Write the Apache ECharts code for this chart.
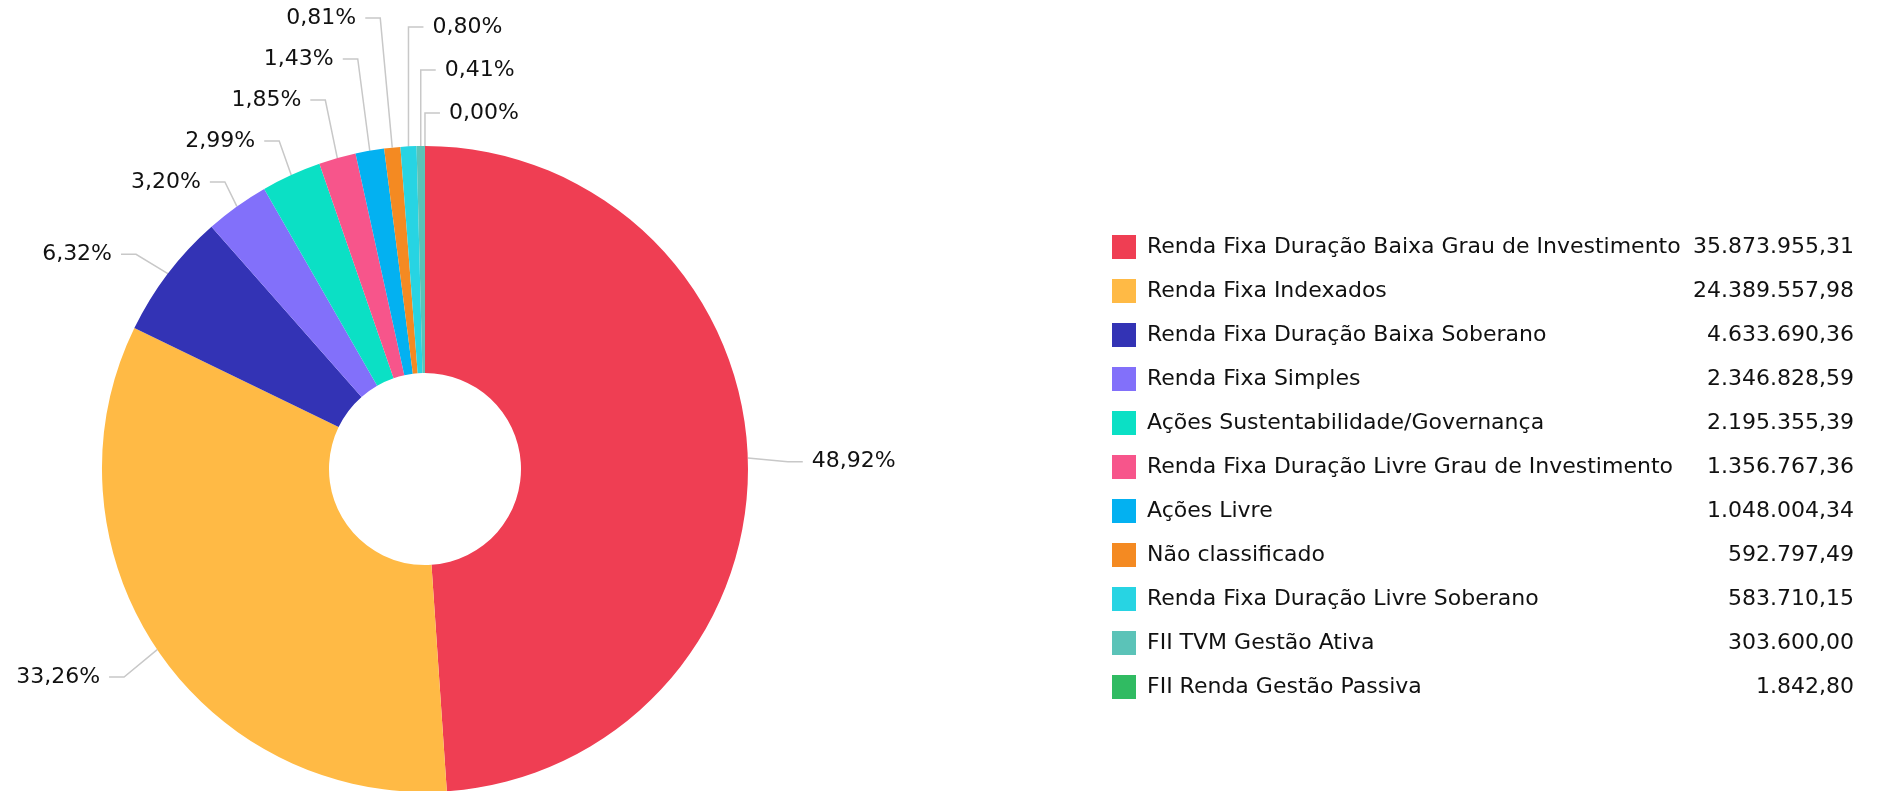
<!DOCTYPE html>
<html><head><meta charset="utf-8">
<script src="https://cdn.jsdelivr.net/npm/echarts@6/dist/echarts.min.js"></script>
<style>html,body{margin:0;padding:0;background:#fff}#c{width:1879px;height:791px}</style>
</head><body><div id="c"></div>
<script>
const categories = [
  'Renda Fixa Duração Baixa Grau de Investimento',
  'Renda Fixa Indexados',
  'Renda Fixa Duração Baixa Soberano',
  'Renda Fixa Simples',
  'Ações Sustentabilidade/Governança',
  'Renda Fixa Duração Livre Grau de Investimento',
  'Ações Livre',
  'Não classificado',
  'Renda Fixa Duração Livre Soberano',
  'FII TVM Gestão Ativa',
  'FII Renda Gestão Passiva'
];
const values = [35873955.31, 24389557.98, 4633690.36, 2346828.59, 2195355.39, 1356767.36, 1048004.34, 592797.49, 583710.15, 303600.00, 1842.80];
const colors = ['#EF3E53', '#FFBA45', '#3333B5', '#8270FA', '#0BE0C5', '#F7558B', '#03B1F1', '#F48A22', '#27D4E3', '#5BC3B8', '#30BB62'];

const total = values.reduce((a, b) => a + b, 0);
function fmtBR(v) {
  const parts = v.toFixed(2).split('.');
  return parts[0].replace(/\B(?=(\d{3})+(?!\d))/g, '.') + ',' + parts[1];
}
function fmtPct(v) { return (v / total * 100).toFixed(2).replace('.', ',') + '%'; }

const FONT = 'DejaVu Sans';
const TEXT = '#111111';
const CX = 425, CY = 469, R_OUT = 323, R_IN = 96;
const L1 = 40, L2 = 15, GAP = 9, DROP = 5;
const LEFT_STACK = [7, 6, 5, 4, 3];
const RIGHT_STACK = [8, 9, 10];
const LEFT_TOP = 18, STEP_L = 41, RIGHT_TOP = 27, STEP_R = 43;

function labelLayout(p) {
  const i = p.dataIndex;
  const pts = p.labelLinePoints;
  if (!pts) return {};
  const e = pts[0];
  const dx = e[0] - CX, dy = e[1] - CY;
  const len = Math.hypot(dx, dy) || 1;
  const ux = dx / len, uy = dy / len;
  let side, ex, ey;
  const li = LEFT_STACK.indexOf(i), ri = RIGHT_STACK.indexOf(i);
  if (li >= 0) {
    side = -1;
    ey = LEFT_TOP + li * STEP_L;
    const t = (ey - e[1]) / uy;
    ex = Math.max(e[0] + ux * t, e[0] - 12);
  } else if (ri >= 0) {
    side = 1;
    ey = RIGHT_TOP + ri * STEP_R;
    ex = e[0];
  } else {
    side = ux < 0 ? -1 : 1;
    ex = e[0] + ux * L1;
    ey = e[1] + uy * L1 + DROP;
  }
  const endX = ex + side * L2;
  return {
    x: endX + side * GAP,
    y: ey,
    align: side < 0 ? 'right' : 'left',
    verticalAlign: 'middle',
    labelLinePoints: [[e[0], e[1]], [ex, ey], [endX, ey]]
  };
}

const valueByName = {};
categories.forEach((c, k) => { valueByName[c] = values[k]; });

const chart = echarts.init(document.getElementById('c'), null, { renderer: 'canvas' });
chart.setOption({
  animation: false,
  color: colors,
  legend: {
    orient: 'vertical',
    left: 1107,
    top: 230,
    itemWidth: 24,
    itemHeight: 24,
    itemGap: 20,
    icon: 'rect',
    selectedMode: false,
    data: categories,
    formatter: function (name) {
      return '{n|' + name + '}{v|' + fmtBR(valueByName[name]) + '}';
    },
    textStyle: {
      fontFamily: FONT, fontSize: 22, color: TEXT,
      rich: {
        n: { fontFamily: FONT, fontSize: 22, color: TEXT, width: 539, padding: [0, 0, 0, 6], lineHeight: 24 },
        v: { fontFamily: FONT, fontSize: 22, color: TEXT, width: 168, align: 'right', lineHeight: 24 }
      }
    }
  },
  series: [{
    type: 'pie',
    center: [CX, CY],
    radius: [R_IN, R_OUT],
    startAngle: 90,
    clockwise: true,
    avoidLabelOverlap: false,
    data: categories.map((c, k) => ({ name: c, value: values[k] })),
    label: {
      show: true,
      position: 'outside',
      fontFamily: FONT,
      fontSize: 22,
      color: TEXT,
      formatter: p => fmtPct(p.value)
    },
    labelLine: {
      show: true,
      length: L1,
      length2: L2,
      smooth: false,
      lineStyle: { color: '#c8c8c8', width: 1.5 }
    },
    labelLayout: labelLayout,
    itemStyle: { borderWidth: 0 },
    emphasis: { disabled: true }
  }]
});
</script>
</body></html>
